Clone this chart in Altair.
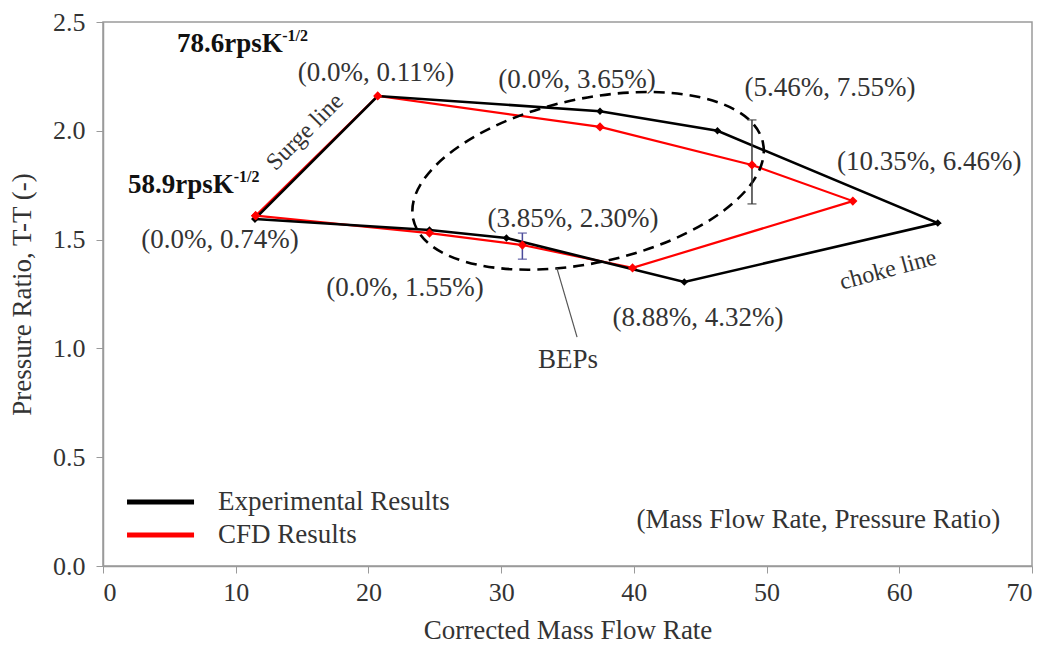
import altair as alt
import pandas as pd

# Speed lines, walked as one closed loop per data set:
# 58.9 surge -> 78.6 surge -> along 78.6 line -> choke -> back along 58.9 line
exp_flow = [11.45, 20.7, 37.45, 46.3, 62.9, 43.8, 30.4, 24.6, 11.45]
exp_pr = [1.595, 2.16, 2.09, 2.00, 1.576, 1.305, 1.507, 1.544, 1.595]

cfd_flow = [11.5, 20.7, 37.45, 48.9, 56.5, 39.9, 31.6, 24.6, 11.5]
cfd_pr = [1.61, 2.16, 2.018, 1.843, 1.677, 1.37, 1.475, 1.53, 1.61]

series = ["Experimental Results", "CFD Results"]
series_color = ["#000000", "#ff0000"]

# Error bars on two CFD points
err_flow = [48.9, 31.6]
err_low = [1.664, 1.41]
err_high = [2.05, 1.53]
err_color = ["#3a3a3a", "#4b4b9a"]

# Percentage deviations (mass flow, pressure ratio) beside the points
dev_text = ["(0.0%, 0.11%)", "(0.0%, 0.74%)", "(0.0%, 3.65%)", "(5.46%, 7.55%)",
            "(10.35%, 6.46%)", "(3.85%, 2.30%)", "(0.0%, 1.55%)", "(8.88%, 4.32%)",
            "BEPs", "(Mass Flow Rate, Pressure Ratio)"]
dev_x = [20.57, 8.82, 35.72, 54.78, 62.25, 35.42, 22.76, 44.84, 35.04, 53.9]
dev_y = [2.266, 1.498, 2.233, 2.197, 1.857, 1.595, 1.278, 1.14, 0.947, 0.211]

speed_text = ["78.6rpsK", "58.9rpsK"]
speed_x = [5.58, 1.88]
speed_y = [2.399, 1.751]
sup_x = [13.5, 9.85]
sup_y = [2.436, 1.788]

# Legend rows: line segment from key_x0 to key_x1, label at key_tx
key_x0, key_x1, key_tx = 1.81, 6.86, 8.67
key_y = [0.294, 0.142]

FONT = "Liberation Serif"
TXT = "#333333"

rows = []
for i, (fx, pr) in enumerate(zip(exp_flow, exp_pr)):
    rows.append({"flow": fx, "pr": pr, "series": series[0], "order": i})
for i, (fx, pr) in enumerate(zip(cfd_flow, cfd_pr)):
    rows.append({"flow": fx, "pr": pr, "series": series[1], "order": i})
loops = pd.DataFrame(rows)
exp_df = loops[loops.series == series[0]]
cfd_df = loops[loops.series == series[1]]

x_scale = alt.Scale(domain=[0, 70], nice=False, zero=True)
y_scale = alt.Scale(domain=[0, 2.5], nice=False, zero=True)

x_enc = alt.X("flow:Q", scale=x_scale, axis=alt.Axis(
    values=list(range(0, 71, 10)), title="Corrected Mass Flow Rate", grid=False,
    tickSize=7, tickColor="#9a9a9a", domainColor="#9a9a9a", domainWidth=1.5,
    labelFont=FONT, labelFontSize=26, labelColor=TXT, labelPadding=6,
    titleFont=FONT, titleFontSize=27, titleFontWeight="normal", titleColor=TXT,
    titleBaseline="middle", titleY=64))
y_enc = alt.Y("pr:Q", scale=y_scale, axis=alt.Axis(
    values=[0, 0.5, 1.0, 1.5, 2.0, 2.5], format=".1f", title="Pressure Ratio, T-T (-)",
    grid=False, tickSize=7, tickColor="#9a9a9a", domainColor="#9a9a9a", domainWidth=1.5,
    labelFont=FONT, labelFontSize=26, labelColor=TXT, labelPadding=11,
    titleFont=FONT, titleFontSize=27, titleFontWeight="normal", titleColor=TXT,
    titleBaseline="middle", titleX=-81))

color = alt.Color("series:N", scale=alt.Scale(domain=series, range=series_color), legend=None)

cfd_line = alt.Chart(cfd_df).mark_line(strokeWidth=2.2).encode(
    x=x_enc, y=y_enc, color=color, order="order:Q")
exp_line = alt.Chart(exp_df).mark_line(strokeWidth=2.6).encode(
    x="flow:Q", y="pr:Q", color=color, order="order:Q")

exp_pts = alt.Chart(exp_df).mark_point(shape="diamond", filled=True, size=55,
                                       color="#000000", opacity=1).encode(x="flow:Q", y="pr:Q")
cfd_pts = alt.Chart(cfd_df).mark_point(shape="diamond", filled=True, size=85,
                                       color="#ff0000", opacity=1).encode(x="flow:Q", y="pr:Q")

err_df = pd.DataFrame({"flow": err_flow, "lo": err_low, "hi": err_high, "c": err_color})
err_rule = alt.Chart(err_df).mark_rule(strokeWidth=1.5).encode(
    x="flow:Q", y="lo:Q", y2="hi:Q", color=alt.Color("c:N", scale=None))
err_cap_lo = alt.Chart(err_df).mark_tick(orient="horizontal", size=9, thickness=1.5).encode(
    x="flow:Q", y="lo:Q", color=alt.Color("c:N", scale=None))
err_cap_hi = alt.Chart(err_df).mark_tick(orient="horizontal", size=9, thickness=1.5).encode(
    x="flow:Q", y="hi:Q", color=alt.Color("c:N", scale=None))

# Dashed ellipse round the best-efficiency points (unit ellipse drawn as a symbol path)
ELLIPSE = ("M1,0 C1,0.253 0.552,0.458 0,0.458 C-0.552,0.458 -1,0.253 -1,0 "
           "C-1,-0.253 -0.552,-0.458 0,-0.458 C0.552,-0.458 1,-0.253 1,0 Z")
bep_df = pd.DataFrame({"flow": [36.55], "pr": [1.77]})
bep_ring = alt.Chart(bep_df).mark_point(shape=ELLIPSE, size=128164, angle=347.6, filled=False,
                                        stroke="#000000", strokeWidth=2.6, strokeDash=[11, 7],
                                        opacity=1).encode(x="flow:Q", y="pr:Q")

lead_df = pd.DataFrame({"x1": [34.2], "y1": [1.369], "x2": [35.72], "y2": [1.052]})
bep_lead = alt.Chart(lead_df).mark_rule(color="#555555", strokeWidth=1.2).encode(
    x="x1:Q", y="y1:Q", x2="x2:Q", y2="y2:Q")

dev_df = pd.DataFrame({"x": dev_x, "y": dev_y, "t": dev_text})
dev_lbl = alt.Chart(dev_df).mark_text(font=FONT, fontSize=27, color=TXT, align="center",
                                      baseline="middle").encode(x="x:Q", y="y:Q", text="t:N")

sp_df = pd.DataFrame({"x": speed_x, "y": speed_y, "t": speed_text,
                      "sx": sup_x, "sy": sup_y, "s": ["-1/2", "-1/2"]})
sp_lbl = alt.Chart(sp_df).mark_text(font=FONT, fontSize=27, fontWeight="bold", color="#111111",
                                    align="left", baseline="middle").encode(
    x="x:Q", y="y:Q", text="t:N")
sp_sup = alt.Chart(sp_df).mark_text(font=FONT, fontSize=16, fontWeight="bold", color="#111111",
                                    align="left", baseline="middle").encode(
    x="sx:Q", y="sy:Q", text="s:N")

surge_df = pd.DataFrame({"x": [15.22], "y": [1.994], "t": ["Surge line"]})
surge_lbl = alt.Chart(surge_df).mark_text(font=FONT, fontSize=24, color=TXT, angle=315,
                                          align="center", baseline="middle").encode(
    x="x:Q", y="y:Q", text="t:N")
choke_df = pd.DataFrame({"x": [59.16], "y": [1.36], "t": ["choke line"]})
choke_lbl = alt.Chart(choke_df).mark_text(font=FONT, fontSize=24, color=TXT, angle=345,
                                          align="center", baseline="middle").encode(
    x="x:Q", y="y:Q", text="t:N")

# Key for the two data sets
key_df = pd.DataFrame({"series": series, "x0": [key_x0] * 2, "x1": [key_x1] * 2,
                       "tx": [key_tx] * 2, "y": key_y})
key_line = alt.Chart(key_df).mark_rule(strokeWidth=5).encode(
    x="x0:Q", x2="x1:Q", y="y:Q", color=color)
key_text = alt.Chart(key_df).mark_text(font=FONT, fontSize=27, color=TXT, align="left",
                                       baseline="middle").encode(
    x="tx:Q", y="y:Q", text="series:N")

chart = alt.layer(
    cfd_line, exp_line, bep_ring, bep_lead, err_rule, err_cap_lo, err_cap_hi,
    exp_pts, cfd_pts, dev_lbl, sp_lbl, sp_sup, surge_lbl, choke_lbl, key_line, key_text
).properties(
    width=929, height=544,
    padding={"left": 103, "top": 22, "right": 19, "bottom": 89},
    autosize=alt.AutoSizeParams(type="none"),
    background="white",
).configure_view(stroke="#9a9a9a", strokeWidth=1.5)

chart.save("out.html", embed_options={"renderer": "svg", "actions": False})
